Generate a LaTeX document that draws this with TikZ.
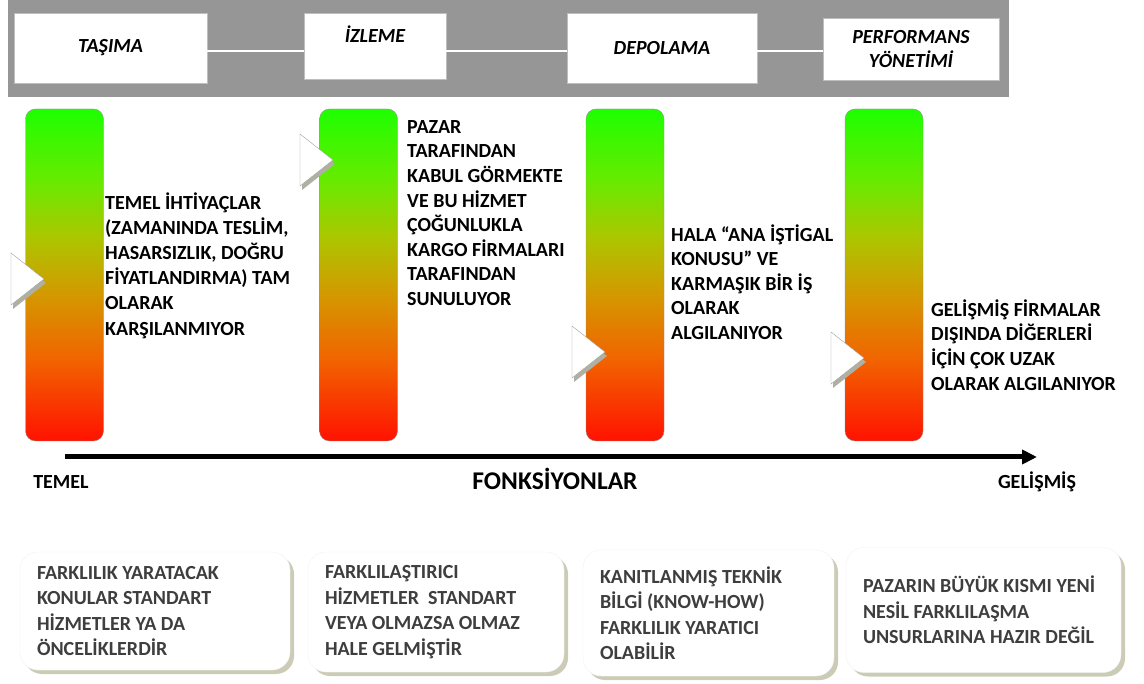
\documentclass[tikz,border=0pt]{standalone}
\usepackage{fontspec}
\setmainfont{Carlito}
\usetikzlibrary{arrows.meta,shadows}
\definecolor{bant}{RGB}{150,150,150}
\definecolor{cerceve}{RGB}{190,190,190}
\definecolor{golge}{RGB}{204,204,182}
\definecolor{ucgolge}{RGB}{176,176,162}
\definecolor{yazi}{RGB}{62,62,62}
\definecolor{yesil}{RGB}{30,255,0}
\definecolor{acikyesil}{RGB}{105,234,0}
\definecolor{sari}{RGB}{170,200,0}
\definecolor{altin}{RGB}{212,152,0}
\definecolor{turuncu}{RGB}{242,98,0}
\definecolor{kirmizi}{RGB}{255,18,0}
\pgfdeclareverticalshading{renkcubugu}{100bp}{color(0bp)=(kirmizi); color(25bp)=(kirmizi); color(37bp)=(turuncu); color(47bp)=(altin); color(56bp)=(sari); color(64bp)=(acikyesil); color(75bp)=(yesil); color(100bp)=(yesil)}

\begin{document}
\begin{tikzpicture}[x=1pt,y=-1pt,
  baslik/.style={draw=cerceve,fill=white,inner sep=0pt,align=center,font=\fontsize{20}{24.5}\selectfont\bfseries\itshape},
  cubuk/.style={draw=gray!85,rounded corners=10pt,shading=renkcubugu,minimum width=78pt,minimum height=332pt,inner sep=0pt},
  metin/.style={anchor=west,align=left,inner sep=0pt,font=\fontsize{20}{24.6}\selectfont\bfseries},
  etiket/.style={anchor=base,inner sep=0pt,font=\fontsize{20}{24.5}\selectfont\bfseries},
  kutu/.style={draw=black!5,fill=white,rounded corners=18pt,inner sep=0pt,inner xsep=17pt,align=flush left,text=yazi,
    font=\fontsize{20}{25.5}\selectfont\bfseries,
    drop shadow={shadow xshift=4pt,shadow yshift=-4pt,fill=golge,opacity=1}},
  ucgen/.style={draw=gray!75,fill=white,drop shadow={shadow xshift=2pt,shadow yshift=-4pt,fill=ucgolge,opacity=1}},
  ok/.style={line width=5pt,-{Triangle[length=15pt 0,width=14pt 0]}}]
\useasboundingbox (0,0) rectangle (1144,684);

\fill[bant] (8,0) rectangle (1009,97);

\node[baslik,minimum width=193pt,minimum height=70pt] at (110.5,48) (a) {TAŞIMA};
\node[baslik,minimum width=142pt,minimum height=66pt] at (375,46) (b) {İZLEME\\~};
\node[baslik,minimum width=190pt,minimum height=70pt] at (662,48) (c) {DEPOLAMA};
\node[baslik,minimum width=176pt,minimum height=62pt] at (911,49) (d) {PERFORMANS\\YÖNETİMİ};

\draw[white,line width=2pt] ([yshift=-3pt]a.east) -- ([yshift=-5pt]b.west);
\draw[white,line width=2pt] ([yshift=-5pt]b.east) -- ([yshift=-3pt]c.west);
\draw[white,line width=2pt] ([yshift=-3pt]c.east) -- ([yshift=-2pt]d.west);

\node[cubuk] at (64.5,275) (e) {};
\node[cubuk] at (358.5,275) (f) {};
\node[cubuk] at (625,275) (g) {};
\node[cubuk] at (884,275) (h) {};

\foreach \x/\y in {11/279,300/160,572/352,831/358}
  \draw[ucgen] (\x,\y-26) -- (\x+33,\y) -- (\x,\y+26) -- cycle;

\node[metin,font=\fontsize{20}{25.2}\selectfont\bfseries] at (105,265.5) (i) {TEMEL İHTİYAÇLAR\\(ZAMANINDA TESLİM,\\HASARSIZLIK, DOĞRU\\FİYATLANDIRMA) TAM\\OLARAK\\KARŞILANMIYOR};
\node[metin] at (407,213) (j) {PAZAR\\TARAFINDAN\\KABUL GÖRMEKTE\\VE BU HİZMET\\ÇOĞUNLUKLA\\KARGO FİRMALARI\\TARAFINDAN\\SUNULUYOR};
\node[metin] at (671,282) (k) {HALA “ANA İŞTİGAL\\KONUSU” VE\\KARMAŞIK BİR İŞ\\OLARAK\\ALGILANIYOR};
\node[metin] at (931,345) (l) {GELİŞMİŞ FİRMALAR\\DIŞINDA DİĞERLERİ\\İÇİN ÇOK UZAK\\OLARAK ALGILANIYOR};

\coordinate (s) at (65,457);
\coordinate (t) at (1037,457);
\draw[ok] (s) -- (t);

\node[etiket] at (61,488.5) (m) {TEMEL};
\node[etiket,font=\fontsize{25.5}{30}\selectfont\bfseries] at (555,490) (n) {FONKSİYONLAR};
\node[etiket] at (1037,488.5) (o) {GELİŞMİŞ};

\node[kutu,minimum width=270pt,minimum height=118pt,text width=236pt] at (155,611) (p) {FARKLILIK YARATACAK\\KONULAR STANDART\\HİZMETLER YA DA\\ÖNCELİKLERDİR};
\node[kutu,minimum width=256pt,minimum height=120pt,text width=222pt] at (436,612) (q) {FARKLILAŞTIRICI\\HİZMETLER \ STANDART\\VEYA OLMAZSA OLMAZ\\HALE GELMİŞTİR};
\node[kutu,minimum width=251pt,minimum height=126pt,text width=217pt] at (708.5,613) (r) {KANITLANMIŞ TEKNİK\\BİLGİ (KNOW-HOW)\\FARKLILIK YARATICI\\OLABİLİR};
\node[kutu,minimum width=275pt,minimum height=125pt,text width=241pt] at (983.5,610) (u) {PAZARIN BÜYÜK KISMI YENİ\\NESİL FARKLILAŞMA\\UNSURLARINA HAZIR DEĞİL};

\end{tikzpicture}
\end{document}
